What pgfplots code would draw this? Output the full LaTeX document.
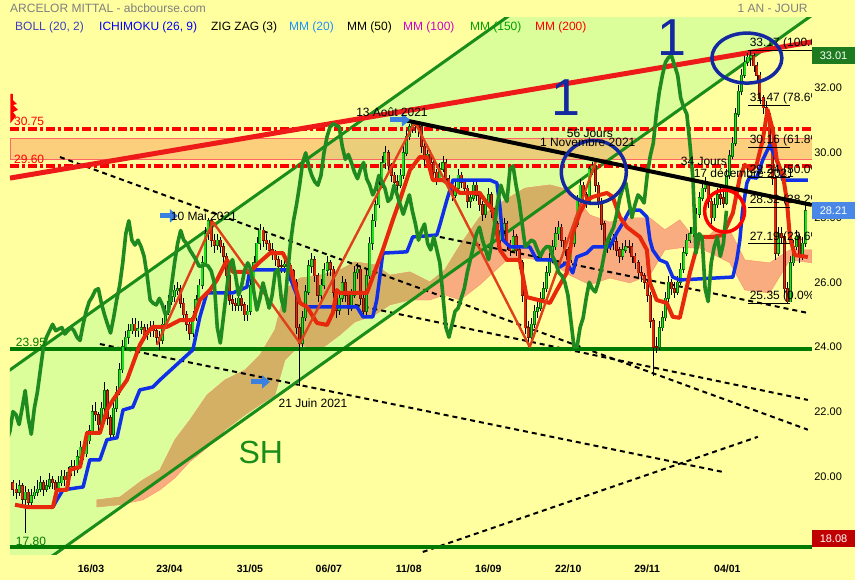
\documentclass[border=0pt]{standalone}
\usepackage{fontspec}
\setmainfont{Liberation Sans}
\usepackage{pgfplots}
\pgfplotsset{compat=1.18}
\usepackage{pgfplotstable}
\usetikzlibrary{arrows.meta}

\definecolor{bgyellow}{HTML}{FFFFA0}
\definecolor{chgreen}{HTML}{DBFD9A}
\definecolor{lgreen}{HTML}{1A8C1A}
\definecolor{dgreen}{HTML}{007A00}
\definecolor{chikou}{HTML}{1F8A1F}
\definecolor{tenkan}{HTML}{E8280C}
\definecolor{kijun}{HTML}{1030E8}
\definecolor{zz}{HTML}{E0401A}
\definecolor{trendred}{HTML}{EE1A1A}
\definecolor{circblue}{HTML}{1428A0}
\definecolor{salmon}{HTML}{F8AC80}
\definecolor{tan}{HTML}{D4B064}
\definecolor{bandc}{HTML}{F8A860}
\definecolor{upc}{HTML}{22DD22}
\definecolor{upb}{HTML}{0A6A0A}
\definecolor{dnc}{HTML}{D82A10}
\definecolor{dnb}{HTML}{701000}
\definecolor{arrowblue}{HTML}{3A80E0}
\definecolor{titlegray}{HTML}{7F7F7F}
\definecolor{bollc}{HTML}{4040C0}
\definecolor{mm20c}{HTML}{1E90FF}
\definecolor{mm100c}{HTML}{CC00CC}
\definecolor{mm150c}{HTML}{00A000}
\definecolor{box33}{HTML}{1E7A1E}
\definecolor{box28}{HTML}{4A88E8}
\definecolor{box18}{HTML}{C00000}

\newcommand{\fs}[1]{\fontsize{#1}{#1}\selectfont}

% daily candles: index, open, close, high, low
\pgfplotstableread{
i o c h l
0 19.8 19.6 19.9 19.4
1 19.6 19.5 19.8 19.3
2 19.5 19.7 19.9 19.4
3 19.7 19.3 19.8 19.1
4 19.3 19.5 19.7 18.25
5 19.5 19.2 19.6 19.0
6 19.2 19.4 19.6 19.1
7 19.4 19.5 19.7 19.3
8 19.5 19.6 19.9 19.4
9 19.6 19.8 20.0 19.5
10 19.8 19.6 19.9 19.4
11 19.6 19.7 19.9 19.5
12 19.7 19.9 20.1 19.6
13 19.9 19.8 20.0 19.6
14 19.8 19.6 19.9 19.4
15 19.6 19.8 20.0 19.5
16 19.8 20.0 20.2 19.7
17 20.0 19.9 20.2 19.7
18 19.9 20.1 20.3 19.8
19 20.1 20.3 20.5 20.0
20 20.3 20.2 20.5 20.0
21 20.2 20.6 20.8 20.1
22 20.6 20.9 21.1 20.5
23 20.9 20.7 21.0 20.5
24 20.7 21.1 21.4 20.6
25 21.1 21.4 21.6 21.0
26 21.4 22.0 22.2 21.3
27 22.0 21.9 22.3 21.7
28 21.9 21.6 22.0 21.4
29 21.6 22.1 22.3 21.5
30 22.1 22.65 22.9 22.0
31 22.65 21.8 22.7 21.6
32 21.8 21.3 21.9 21.1
33 21.3 22.1 22.3 21.2
34 22.1 22.6 22.8 22.0
35 22.6 23.3 23.5 22.5
36 23.3 24.0 24.2 23.2
37 24.0 24.3 24.5 23.9
38 24.3 24.5 24.7 24.1
39 24.5 24.7 24.9 24.4
40 24.7 24.5 24.9 24.3
41 24.5 24.55 24.8 24.3
42 24.55 24.6 24.8 24.4
43 24.6 24.4 24.7 24.2
44 24.4 24.5 24.7 24.2
45 24.5 24.6 24.8 24.3
46 24.6 24.5 24.8 24.3
47 24.5 24.3 24.6 24.1
48 24.3 24.2 24.5 23.9
49 24.2 24.7 24.9 24.1
50 24.7 25.1 25.3 24.6
51 25.1 25.4 25.6 25.0
52 25.4 25.55 25.8 25.3
53 25.55 25.75 25.9 25.4
54 25.75 25.8 26.0 25.6
55 25.8 25.35 25.9 25.2
56 25.35 25.0 25.5 24.8
57 25.0 24.7 25.1 24.5
58 24.7 24.43 24.8 24.2
59 24.43 24.9 25.1 24.3
60 24.9 25.45 25.6 24.8
61 25.45 25.9 26.1 25.3
62 25.9 26.6 26.8 25.8
63 26.6 27.5 27.7 26.5
64 27.5 27.9 28.0 27.3
65 27.9 27.3 27.95 27.1
66 27.3 27.15 27.5 26.9
67 27.15 27.3 27.5 27.0
68 27.3 27.1 27.4 26.9
69 27.1 26.8 27.2 26.6
70 26.8 26.2 26.9 26.0
71 26.2 25.45 26.3 25.3
72 25.45 25.35 25.6 25.1
73 25.35 25.3 25.5 25.1
74 25.3 25.5 25.7 25.1
75 25.5 25.3 25.6 25.1
76 25.3 25.0 25.4 24.8
77 25.0 25.1 25.3 24.8
78 25.1 25.9 26.1 25.0
79 25.9 26.6 26.8 25.8
80 26.6 27.2 27.4 26.5
81 27.2 27.6 27.8 27.0
82 27.6 27.3 27.7 27.1
83 27.3 27.2 27.5 27.0
84 27.2 27.0 27.3 26.8
85 27.0 26.85 27.2 26.7
86 26.85 26.7 27.0 26.5
87 26.7 26.5 26.8 26.3
88 26.5 26.5 26.7 26.3
89 26.5 26.55 26.8 26.3
90 26.55 26.5 26.7 26.3
91 26.5 26.35 26.6 26.1
92 26.35 26.0 26.4 25.8
93 26.0 24.6 26.1 24.4
94 24.6 24.12 24.7 22.8
95 24.12 24.9 25.1 24.0
96 24.9 25.7 25.9 24.8
97 25.7 26.5 26.7 25.6
98 26.5 26.7 26.9 26.3
99 26.7 26.2 26.8 26.0
100 26.2 25.6 26.3 25.4
101 25.6 25.9 26.1 25.4
102 25.9 26.38 26.6 25.8
103 26.38 26.6 26.8 26.2
104 26.6 26.4 26.7 26.2
105 26.4 25.7 26.5 25.5
106 25.7 25.14 25.8 24.9
107 25.14 25.5 25.7 25.0
108 25.5 25.98 26.2 25.4
109 25.98 25.6 26.1 25.4
110 25.6 25.2 25.7 25.0
111 25.2 25.6 25.8 25.1
112 25.6 26.3 26.5 25.5
113 26.3 26.4 26.6 26.1
114 26.4 25.5 26.5 25.3
115 25.5 25.1 25.6 24.9
116 25.1 26.2 26.4 25.0
117 26.2 27.2 27.4 26.1
118 27.2 27.9 28.1 27.0
119 27.9 28.4 28.6 27.7
120 28.4 29.0 29.2 28.3
121 29.0 29.7 29.9 28.9
122 29.7 30.0 30.2 29.5
123 30.0 29.6 30.1 29.4
124 29.6 29.3 29.7 29.1
125 29.3 29.1 29.4 28.9
126 29.1 29.0 29.3 28.8
127 29.0 29.3 29.5 28.9
128 29.3 30.0 30.2 29.2
129 30.0 30.5 30.7 29.9
130 30.5 30.8 30.9 30.4
131 30.8 30.9 30.98 30.6
132 30.9 30.85 30.95 30.6
133 30.85 30.8 30.9 30.5
134 30.8 30.2 30.85 30.0
135 30.2 29.8 30.3 29.6
136 29.8 29.95 30.1 29.6
137 29.95 29.7 30.1 29.5
138 29.7 29.4 29.8 29.2
139 29.4 29.2 29.5 29.0
140 29.2 29.5 29.7 29.1
141 29.5 29.7 29.9 29.4
142 29.7 29.2 29.8 29.0
143 29.2 29.0 29.3 28.8
144 29.0 28.7 29.1 28.5
145 28.7 28.9 29.1 28.6
146 28.9 29.3 29.5 28.8
147 29.3 29.1 29.4 28.9
148 29.1 28.9 29.2 28.7
149 28.9 28.5 29.0 28.3
150 28.5 28.6 28.8 28.3
151 28.6 29.0 29.2 28.5
152 29.0 28.7 29.1 28.5
153 28.7 28.4 28.8 28.2
154 28.4 28.1 28.5 27.9
155 28.1 28.4 28.6 28.0
156 28.4 28.7 28.9 28.3
157 28.7 28.2 28.8 28.0
158 28.2 27.8 28.3 27.6
159 27.8 27.3 27.9 27.1
160 27.3 27.6 27.8 27.2
161 27.6 27.8 28.0 27.5
162 27.8 27.2 27.9 27.0
163 27.2 27.0 27.3 26.8
164 27.0 27.4 27.6 26.9
165 27.4 27.0 27.5 26.8
166 27.0 26.6 27.1 26.4
167 26.6 25.6 26.7 25.4
168 25.6 24.6 25.7 24.4
169 24.6 24.3 24.8 24.0
170 24.3 24.7 24.9 24.2
171 24.7 25.1 25.3 24.6
172 25.1 25.2 25.4 24.9
173 25.2 25.5 25.7 25.1
174 25.5 25.8 26.0 25.4
175 25.8 26.3 26.5 25.7
176 26.3 26.7 26.9 26.2
177 26.7 27.1 27.3 26.6
178 27.1 27.5 27.7 27.0
179 27.5 27.7 27.9 27.3
180 27.7 27.3 27.8 27.1
181 27.3 27.0 27.4 26.8
182 27.0 26.7 27.1 26.5
183 26.7 27.2 27.4 26.6
184 27.2 27.8 28.0 27.1
185 27.8 28.5 28.7 27.7
186 28.5 29.0 29.2 28.4
187 29.0 28.7 29.1 28.5
188 28.7 28.5 28.8 28.3
189 28.5 29.5 29.6 28.4
190 29.5 29.6 29.72 29.3
191 29.6 29.0 29.7 28.8
192 29.0 28.5 29.1 28.3
193 28.5 27.8 28.6 27.6
194 27.8 27.1 27.9 26.9
195 27.1 27.2 27.4 26.9
196 27.2 27.3 27.5 27.0
197 27.3 27.25 27.5 27.0
198 27.25 27.0 27.4 26.8
199 27.0 26.8 27.1 26.6
200 26.8 27.0 27.2 26.7
201 27.0 27.1 27.3 26.9
202 27.1 27.1 27.3 26.9
203 27.1 26.8 27.2 26.6
204 26.8 26.6 26.9 26.4
205 26.6 26.3 26.7 26.1
206 26.3 26.2 26.5 26.0
207 26.2 26.0 26.3 25.8
208 26.0 25.6 26.1 25.4
209 25.6 24.8 25.7 24.6
210 24.8 24.0 24.9 23.1
211 24.0 24.0 24.3 23.8
212 24.0 24.6 24.8 23.9
213 24.6 24.9 25.1 24.5
214 24.9 25.5 25.7 24.8
215 25.5 26.0 26.2 25.4
216 26.0 25.8 26.1 25.6
217 25.8 25.7 26.0 25.5
218 25.7 26.0 26.2 25.6
219 26.0 26.4 26.6 25.9
220 26.4 26.9 27.1 26.3
221 26.9 27.3 27.5 26.8
222 27.3 27.5 27.7 27.2
223 27.5 27.7 27.9 27.4
224 27.7 28.1 28.3 27.6
225 28.1 28.6 28.8 28.0
226 28.6 28.9 29.1 28.5
227 28.9 29.07 29.24 28.8
228 29.07 28.5 29.1 28.3
229 28.5 28.0 28.6 27.8
230 28.0 28.4 28.6 27.9
231 28.4 28.7 28.9 28.3
232 28.7 28.6 28.9 28.4
233 28.6 28.45 28.8 28.3
234 28.45 29.3 29.5 28.4
235 29.3 29.9 30.1 29.2
236 29.9 30.3 30.5 29.8
237 30.3 31.2 31.4 30.2
238 31.2 31.9 32.1 31.1
239 31.9 32.4 32.6 31.8
240 32.4 32.8 33.0 32.3
241 32.8 32.95 33.1 32.7
242 32.95 33.0 33.17 32.7
243 33.0 32.7 33.1 32.5
244 32.7 32.4 32.8 32.2
245 32.4 31.7 32.5 31.5
246 31.7 31.4 31.8 31.2
247 31.4 31.2 31.6 31.0
248 31.2 30.3 31.3 30.1
249 30.3 29.2 30.4 29.0
250 29.2 26.9 29.3 26.7
251 26.9 27.5 27.7 26.8
252 27.5 27.4 27.7 27.2
253 27.4 25.8 27.5 25.6
254 25.8 25.4 26.0 25.35
255 25.4 26.6 26.8 25.4
256 26.6 27.1 27.3 26.5
257 27.1 27.4 27.6 27.0
258 27.4 26.8 27.5 26.6
259 26.8 27.2 27.4 26.7
260 27.2 28.21 28.4 27.1
}\candles

\begin{document}
\begin{tikzpicture}
\fill[bgyellow] (-10pt,-25pt) rectangle (845pt,555pt);
\begin{axis}[
  scale only axis, width=802pt, height=537pt,
  at={(0pt,0pt)}, anchor=south west,
  xmin=-0.98, xmax=262, ymin=17.57, ymax=34.17,
  axis line style={draw=none}, tick style={draw=none}, major tick length=0pt,
  xtick={25.6,51.3,77.7,103.6,129.8,155.9,182.1,208.0,234.3},
  xticklabels={16/03,23/04,31/05,06/07,11/08,16/09,22/10,29/11,04/01},
  xticklabel style={font=\fs{10.5}\bfseries, yshift=-6pt},
  ytick={20,22,24,26,28,30,32}, yticklabel pos=right,
  yticklabel style={font=\fs{11}, anchor=west, xshift=-1pt,
    /pgf/number format/fixed, /pgf/number format/fixed zerofill,
    /pgf/number format/precision=2, /pgf/number format/assume math mode=true},
  clip=true,
]
% uptrend channel
\addplot[fill=chgreen, draw=none] coordinates {(-5,23.02) (180,35.40) (280,35.46) (0,16.67) (-5,16.67)} -- cycle;
% resistance band 29.60 / 30.75
\addplot[fill=bandc, fill opacity=0.55, draw=red!60, line width=0.6pt] coordinates {(-0.98,29.81) (262,29.81) (262,30.46) (-0.98,30.46)} -- cycle;
% ichimoku cloud (salmon outside the channel)
\addplot[fill=salmon, draw=salmon!85!red, line width=0.4pt] coordinates {
 (27.5,19.27) (35.1,19.36) (42.6,19.89) (48.2,20.20) (53.1,21.13) (58.0,21.74) (63.6,22.51)
 (69.5,22.98) (76.1,23.29) (81.0,23.75) (85.9,24.53) (89.2,25.76) (94.1,26.13) (100.7,26.22)
 (107.2,26.38) (112.1,26.63) (118.7,26.54) (123.6,26.22) (130.2,26.32) (136.7,26.01) (141.6,26.38)
 (146.6,27.15) (153.1,28.02) (161.3,28.54) (167.9,28.91) (176.1,29.01) (182.6,28.85) (189.2,28.08)
 (195.7,27.86) (202.3,27.99) (208.9,27.99) (213.8,27.62) (218.7,27.93) (225.2,27.15) (230.2,27.62)
 (235.1,27.62) (240.0,26.69) (248.2,26.60) (254.8,27.00) (262.0,27.00)
 (262.0,26.60) (254.8,26.69) (248.2,25.67) (240.0,25.76) (235.1,26.60) (230.2,26.84) (225.2,27.06)
 (218.7,27.06) (213.8,27.00) (208.9,26.22) (202.3,25.98) (195.7,26.13) (189.2,25.92) (182.6,26.22)
 (176.1,26.63) (167.9,26.75) (161.3,26.63) (153.1,25.92) (146.6,25.45) (141.6,25.61) (136.7,25.45)
 (130.2,25.45) (123.6,25.30) (118.7,24.99) (112.1,24.77) (107.2,24.37) (100.7,23.91) (94.1,24.06)
 (89.2,23.60) (85.9,22.51) (81.0,22.21) (76.1,21.90) (69.5,21.43) (63.6,20.88) (58.0,20.45)
 (53.1,19.95) (48.2,19.58) (42.6,19.27) (35.1,19.12) (27.5,19.05)} -- cycle;
% the part of the cloud inside the channel (tan)
\addplot[fill=tan, draw=none] coordinates {
 (27.5,19.27) (35.1,19.36) (42.6,19.89) (48.2,20.20) (53.1,21.13) (58.0,21.74) (63.6,22.51)
 (69.5,22.98) (76.1,23.29) (81.0,23.75) (85.9,24.53) (89.2,25.76) (94.1,26.13) (100.7,26.22)
 (107.2,26.38) (112.1,26.63) (118.7,26.54) (123.6,26.22) (130.2,26.32) (136.7,26.01) (141.6,26.38)
 (146.6,27.15) (153.1,28.02) (161.3,28.54) (167.9,28.91) (176.1,29.01) (181.5,28.87)
 (176.1,28.49) (167.9,27.94) (161.3,27.50) (153.1,26.95) (146.6,26.51) (141.6,26.17) (136.7,25.85)
 (130.2,25.45) (123.6,25.30) (118.7,24.99) (112.1,24.77) (107.2,24.37) (100.7,23.91) (94.1,24.06)
 (89.2,23.60) (85.9,22.51) (81.0,22.21) (76.1,21.90) (69.5,21.43) (63.6,20.94) (58.0,20.56)
 (53.1,20.23) (48.2,19.91) (42.6,19.53) (35.1,19.12) (27.5,19.05)} -- cycle;
% dashed trend lines
\addplot[black, line width=2pt, dash pattern=on 5pt off 4pt] coordinates {(15.4,29.87) (260.7,21.44)};
\addplot[black, line width=2pt, dash pattern=on 5pt off 4pt] coordinates {(28.5,24.09) (232.5,20.14)};
\addplot[black, line width=2pt, dash pattern=on 5pt off 4pt] coordinates {(134.4,17.66) (244.3,21.22)};
\addplot[black, line width=2pt, dash pattern=on 5pt off 4pt] coordinates {(112.1,25.30) (260.7,22.36)};
\addplot[black, line width=2pt, dash pattern=on 5pt off 4pt] coordinates {(140.0,27.40) (260.7,25.05)};
% channel borders
\addplot[lgreen, line width=3pt] coordinates {(-5,23.02) (180,35.40)};
\addplot[lgreen, line width=3pt] coordinates {(0,16.67) (280,35.46)};
% horizontal levels
\addplot[red, line width=4pt, dash pattern=on 9pt off 3pt on 3pt off 3pt] coordinates {(-0.98,30.75) (262,30.75)};
\addplot[red, line width=4pt, dash pattern=on 9pt off 3pt on 3pt off 3pt] coordinates {(-0.98,29.60) (262,29.60)};
\addplot[dgreen, line width=4pt] coordinates {(-0.98,23.95) (262,23.95)};
\addplot[dgreen, line width=4pt] coordinates {(-0.98,17.80) (262,17.80)};
% long red trend line
\addplot[trendred, line width=5pt] coordinates {(-0.98,29.22) (262,33.43)};
% candles: wicks, then body borders, then body fills
\addplot[draw=none, forget plot, error bars/.cd, y dir=both, y explicit, error mark=none,
  error bar style={draw=black, line width=0.7pt}]
  table[x=i, y expr={(\thisrow{h}+\thisrow{l})/2}, y error expr={(\thisrow{h}-\thisrow{l})/2}] {\candles};
\addplot[draw=none, forget plot, restrict expr to domain={\thisrow{c}-\thisrow{o}}{0:100},
  error bars/.cd, y dir=both, y explicit, error mark=none,
  error bar style={draw=upb, line width=3pt}]
  table[x=i, y expr={(\thisrow{o}+\thisrow{c})/2}, y error expr={abs(\thisrow{c}-\thisrow{o})/2+0.02}] {\candles};
\addplot[draw=none, forget plot, restrict expr to domain={\thisrow{c}-\thisrow{o}}{0:100},
  error bars/.cd, y dir=both, y explicit, error mark=none,
  error bar style={draw=upc, line width=1.6pt}]
  table[x=i, y expr={(\thisrow{o}+\thisrow{c})/2}, y error expr={abs(\thisrow{c}-\thisrow{o})/2}] {\candles};
\addplot[draw=none, forget plot, restrict expr to domain={\thisrow{c}-\thisrow{o}}{-100:0},
  error bars/.cd, y dir=both, y explicit, error mark=none,
  error bar style={draw=dnb, line width=3pt}]
  table[x=i, y expr={(\thisrow{o}+\thisrow{c})/2}, y error expr={abs(\thisrow{c}-\thisrow{o})/2+0.02}] {\candles};
\addplot[draw=none, forget plot, restrict expr to domain={\thisrow{c}-\thisrow{o}}{-100:0},
  error bars/.cd, y dir=both, y explicit, error mark=none,
  error bar style={draw=dnc, line width=1.6pt}]
  table[x=i, y expr={(\thisrow{o}+\thisrow{c})/2}, y error expr={abs(\thisrow{c}-\thisrow{o})/2}] {\candles};
% kijun
\addplot[kijun, line width=3.5pt, line join=round] coordinates {
 (8.85,19.05) (13.1,19.05) (14.4,19.27) (16.4,19.58) (23.0,19.67) (25.2,20.51) (28.5,20.51)
 (30.8,21.13) (34.1,21.19) (36.1,22.05) (39.3,22.14) (41.6,22.67) (45.9,22.76) (48.2,22.98)
 (59.0,23.91) (61.3,24.93) (63.6,25.67) (72.1,25.67) (76.7,25.85) (77.7,26.38) (89.8,26.38)
 (91.8,25.92) (94.1,25.36) (96.4,25.24) (112.8,25.24) (114.8,24.93) (118.0,24.93) (119.3,25.45)
 (120.3,26.16) (121.3,26.90) (129.2,26.94) (131.1,27.40) (139.0,27.46) (140.0,27.77) (142.3,28.54)
 (144.3,29.16) (156.4,29.16) (158.7,29.07) (159.7,28.33) (160.7,27.31) (163.0,27.09) (169.5,27.09)
 (171.8,26.69) (177.0,26.69) (179.3,26.47) (181.6,26.60) (183.6,26.29) (184.9,26.78) (188.2,26.90)
 (190.2,27.09) (195.7,27.09) (198.0,27.52) (200.0,27.83) (202.3,28.23) (205.6,28.23) (207.9,28.02)
 (208.9,27.31) (209.8,27.00) (212.1,26.69) (214.4,26.60) (216.4,26.16) (218.7,26.07) (236.1,26.16)
 (237.4,26.69) (238.4,27.31) (239.3,28.23) (240.7,29.07) (241.6,29.25) (243.9,29.22) (245.9,29.78)
 (248.2,30.24) (250.5,29.78) (252.5,29.16) (260.7,29.16)};
% tenkan
\addplot[tenkan, line width=4pt, line join=round] coordinates {
 (0.66,19.12) (4.6,19.05) (13.1,19.05) (14.4,19.58) (17.7,19.58) (18.7,20.20) (22.0,20.29)
 (24.3,21.34) (28.5,21.34) (30.8,22.05) (32.8,22.36) (35.1,22.67) (37.4,22.98) (41.6,24.06)
 (43.9,24.43) (45.9,24.62) (50.5,24.62) (54.8,24.83) (59.0,24.83) (61.3,25.45) (64.6,25.76)
 (66.9,26.07) (70.2,26.69) (72.1,26.32) (77.7,26.32) (81.0,26.63) (84.3,26.90) (88.5,26.90)
 (90.8,26.47) (94.1,25.36) (96.4,25.24) (99.7,24.74) (103.0,24.68) (104.9,25.05) (106.2,25.76)
 (107.2,25.67) (116.1,25.67) (118.0,26.16) (121.3,27.00) (124.6,27.93) (126.9,28.54) (130.2,29.47)
 (133.4,29.87) (135.7,29.87) (137.7,29.16) (141.0,29.16) (144.3,28.94) (146.6,28.76) (153.1,28.76)
 (155.4,28.45) (157.4,28.23) (159.7,27.00) (162.0,26.69) (166.2,26.69) (168.5,25.54) (176.1,25.36)
 (178.4,25.76) (181.6,26.29) (183.6,27.52) (185.9,28.14) (188.2,28.54) (190.2,28.64) (194.8,28.76)
 (196.7,28.64) (199.0,28.02) (201.3,27.71) (205.6,27.40) (207.9,27.00) (208.9,25.98) (211.1,25.45)
 (214.4,25.36) (216.4,24.93) (218.7,24.90) (221.0,25.85) (222.0,26.29) (225.2,27.40) (229.5,27.40)
 (232.8,27.46) (236.1,28.14) (238.4,29.25) (240.0,29.63) (242.3,29.47) (243.9,29.63) (245.9,30.40)
 (247.5,31.33) (249.2,30.71) (250.5,29.78) (252.5,29.32) (253.8,28.54) (254.8,27.40) (256.4,26.84)
 (260.7,26.78)};
% zig zag
\addplot[zz, line width=2.4pt, line join=round] coordinates {
 (47.2,24.06) (65.6,27.86) (94.1,24.12) (131.8,30.95) (169.5,24.00) (191.1,29.72)};
% chikou span: closes shifted 26 sessions back
\addplot[chikou, line width=3.6pt, line join=round] table[x expr=\thisrow{i}-26, y=c] {\candles};
% descending black line
\addplot[black, line width=4pt] coordinates {(129.0,31.00) (262,28.39)};
% fibonacci levels
\addplot[black, line width=1pt] coordinates {(241.0,33.17) (262,33.17)};
\addplot[black, line width=1pt] coordinates {(241.0,31.47) (254.8,31.47)};
\addplot[black, line width=1pt] coordinates {(241.0,30.16) (254.8,30.16)};
\addplot[black, line width=1pt] coordinates {(241.0,29.24) (254.8,29.24)};
\addplot[black, line width=1pt] coordinates {(241.0,28.32) (254.8,28.32)};
\addplot[black, line width=1pt] coordinates {(241.0,27.19) (254.8,27.19)};
\addplot[black, line width=1pt] coordinates {(241.0,25.35) (254.8,25.35)};
\node[anchor=south west, inner sep=0pt, yshift=1pt, font=\fs{12}] at (axis cs:241.6,33.17) {33.17 (100.0\%)};
\node[anchor=south west, inner sep=0pt, yshift=1pt, font=\fs{12}] at (axis cs:241.6,31.47) {31.47 (78.6\%)};
\node[anchor=south west, inner sep=0pt, yshift=1pt, font=\fs{12}] at (axis cs:241.6,30.16) {30.16 (61.8\%)};
\node[anchor=south west, inner sep=0pt, yshift=1pt, font=\fs{12}] at (axis cs:241.6,29.24) {29.24 (50.0\%)};
\node[anchor=south west, inner sep=0pt, yshift=1pt, font=\fs{12}] at (axis cs:241.6,28.32) {28.32 (38.2\%)};
\node[anchor=south west, inner sep=0pt, yshift=1pt, font=\fs{12}] at (axis cs:241.6,27.19) {27.19 (23.6\%)};
\node[anchor=south west, inner sep=0pt, yshift=1pt, font=\fs{12}] at (axis cs:241.6,25.35) {25.35 (0.0\%)};
% circles
\draw[circblue, line width=3.5pt] (axis cs:190.5,29.41) ellipse (32.5pt and 31.5pt);
\draw[circblue, line width=3.5pt] (axis cs:240.7,32.93) ellipse (35pt and 25pt);
\draw[red, line width=3.5pt] (axis cs:233.4,28.20) ellipse (20pt and 21pt);
% arrows
\draw[arrowblue, line width=5pt, -{Triangle[length=8pt,width=13pt]}] (axis cs:123.6,31.02) -- (axis cs:130.2,31.02);
\draw[arrowblue, line width=5pt, -{Triangle[length=8pt,width=13pt]}] (axis cs:48.2,28.05) -- (axis cs:54.1,28.05);
\draw[arrowblue, line width=5pt, -{Triangle[length=8pt,width=13pt]}] (axis cs:78.0,22.92) -- (axis cs:84.3,22.92);
% small red flag
\fill[red] (axis cs:-0.82,31.82) -- (axis cs:0,31.82) -- (axis cs:0,31.63) -- (axis cs:1.31,31.51)
  -- (axis cs:0,31.48) -- (axis cs:1.64,31.33) -- (axis cs:0,31.26) -- (axis cs:0.98,31.14)
  -- (axis cs:-0.82,30.92) -- cycle;
% texts
\node[font=\fs{12}, inner sep=0pt] at (axis cs:124.3,31.26) {13 Août 2021};
\node[font=\fs{12}, inner sep=0pt] at (axis cs:62.6,28.05) {10 Mai 2021};
\node[font=\fs{12}, inner sep=0pt] at (axis cs:98.4,22.27) {21 Juin 2021};
\node[font=\fs{12}, inner sep=0pt] at (axis cs:189.2,30.61) {56 Jours};
\node[font=\fs{12}, inner sep=0pt] at (axis cs:188.5,30.34) {1 Novembre 2021};
\node[font=\fs{12}, inner sep=0pt] at (axis cs:226.6,29.75) {34 Jours};
\node[font=\fs{12}, inner sep=0pt] at (axis cs:239.7,29.38) {17 décembre 2021};
\node[font=\fs{52}, text=circblue, inner sep=0pt] at (axis cs:181.3,31.70) {1};
\node[font=\fs{52}, text=circblue, inner sep=0pt] at (axis cs:216.1,33.55) {1};
\node[font=\fs{32}, text=lgreen, inner sep=0pt] at (axis cs:81.3,20.75) {SH};
\node[font=\fs{12}, text=red, anchor=base west, inner sep=0pt, yshift=3pt] at (axis cs:0.3,30.75) {30.75};
\node[font=\fs{12}, text=red, anchor=base west, inner sep=0pt, yshift=2pt] at (axis cs:0.3,29.60) {29.60};
\node[font=\fs{12}, text=dgreen, anchor=base west, inner sep=0pt, yshift=2pt] at (axis cs:0.9,23.95) {23.95};
\node[font=\fs{12}, text=dgreen, anchor=base west, inner sep=0pt, yshift=2pt] at (axis cs:0.9,17.80) {17.80};
\coordinate (b33) at (axis cs:262,33.01);
\coordinate (b28) at (axis cs:262,28.21);
\coordinate (b18) at (axis cs:262,18.08);
\end{axis}
% last-value boxes on the price scale
\node[fill=box33, text=white, anchor=west, minimum width=43pt, minimum height=17pt, inner sep=0pt, font=\fs{11}] at (b33) {33.01};
\node[fill=box28, text=white, anchor=west, minimum width=43pt, minimum height=17pt, inner sep=0pt, font=\fs{11}] at (b28) {28.21};
\node[fill=box18, text=white, anchor=west, minimum width=43pt, minimum height=17pt, inner sep=0pt, font=\fs{11}] at (b18) {18.08};
% title and indicator list
\node[anchor=west, inner sep=0pt, text=titlegray, font=\fs{12}] at (0pt,547pt) {ARCELOR MITTAL - abcbourse.com};
\node[anchor=east, inner sep=0pt, text=titlegray, font=\fs{12}] at (798pt,547pt) {1 AN - JOUR};
\node[anchor=west, inner sep=0pt, text=bollc, font=\fs{12}] at (5pt,528pt) {BOLL (20, 2)};
\node[anchor=west, inner sep=0pt, text=blue, font=\fs{12}] at (89pt,528pt) {ICHIMOKU (26, 9)};
\node[anchor=west, inner sep=0pt, text=black, font=\fs{12}] at (201pt,528pt) {ZIG ZAG (3)};
\node[anchor=west, inner sep=0pt, text=mm20c, font=\fs{12}] at (279pt,528pt) {MM (20)};
\node[anchor=west, inner sep=0pt, text=black, font=\fs{12}] at (337pt,528pt) {MM (50)};
\node[anchor=west, inner sep=0pt, text=mm100c, font=\fs{12}] at (393pt,528pt) {MM (100)};
\node[anchor=west, inner sep=0pt, text=mm150c, font=\fs{12}] at (460pt,528pt) {MM (150)};
\node[anchor=west, inner sep=0pt, text=red, font=\fs{12}] at (525pt,528pt) {MM (200)};
\end{tikzpicture}
\end{document}
